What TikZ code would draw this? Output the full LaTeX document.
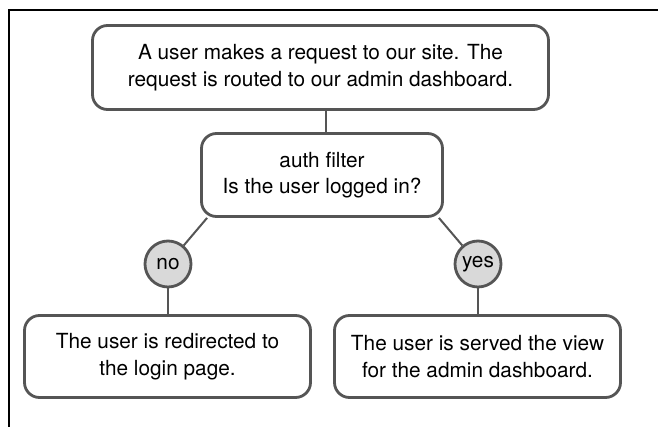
\documentclass[tikz,border=0pt]{standalone}
\usepackage{fontspec}
\setmainfont{TeX Gyre Heros}
\definecolor{edge}{HTML}{555555}
\definecolor{bubble}{HTML}{D9D9D9}
\tikzset{
  box/.style={draw=edge, line width=2.8pt, rounded corners=15pt, fill=white,
    align=center, inner sep=0pt, font=\fontsize{20.8}{26.5}\selectfont},
  tag/.style={draw=edge, line width=2.8pt, circle, fill=bubble, minimum size=46pt,
    inner sep=0pt, font=\fontsize{20.8}{24}\selectfont},
  link/.style={draw=edge, line width=2pt},
}
\begin{document}
\begin{tikzpicture}[x=1pt, y=-1pt]
\useasboundingbox (0,0) rectangle (658,427);
\draw[line width=1.5pt, black] (9,427) -- (9,10) -- (658,10);

\node[box, minimum width=456pt, minimum height=84pt] (top) at (320.5,67.5)
  {A user makes a request to our site. The\\request is routed to our admin dashboard.};
\node[box, minimum width=241pt, minimum height=83pt] (auth) at (322,175)
  {auth filter\\Is the user logged in?};
\node[tag] (no) at (168,264) {no};
\node[tag] (yes) at (478,264) {yes};
\node[box, minimum width=286pt, minimum height=82pt] (left) at (167.5,356.5)
  {The user is redirected to\\the login page.};
\node[box, minimum width=286pt, minimum height=82pt] (right) at (477.5,356.5)
  {The user is served the view\\for the admin dashboard.};

\draw[link] ([xshift=4pt]auth.north) -- ([xshift=4pt]auth.north |- top.south);
\draw[link] (no) -- ([xshift=7pt]auth.south west);
\draw[link] (yes) -- ([xshift=-5pt]auth.south east);
\draw[link] (no.south) -- (no.south |- left.north);
\draw[link] (yes.south) -- (yes.south |- right.north);
\end{tikzpicture}
\end{document}
